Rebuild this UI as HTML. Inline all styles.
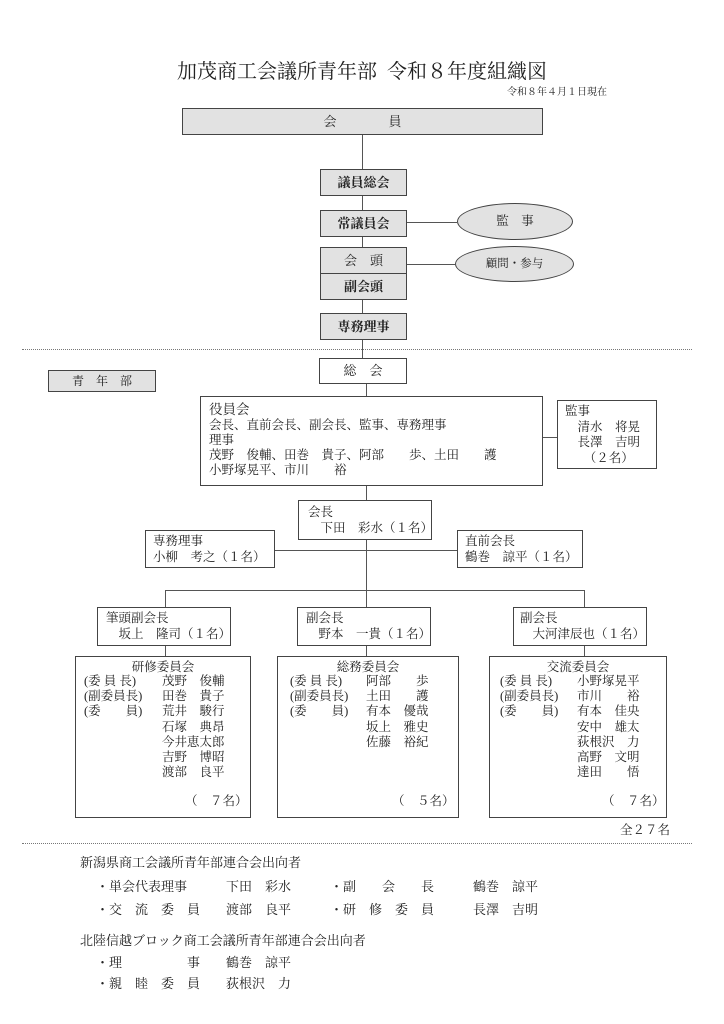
<!DOCTYPE html>
<html><head><meta charset="utf-8"><style>
body{margin:0;width:724px;height:1024px;background:#fff;position:relative;overflow:hidden;font-family:"Liberation Serif","Noto Serif CJK SC",serif;color:#222}
.a{position:absolute;box-sizing:border-box}
.b{position:absolute;box-sizing:border-box;border:1.3px solid #444}
.g{background:#e2e2e2;text-align:center;font-size:13px;font-weight:bold}
.l{position:absolute;background:#555}
.t{position:absolute;font-size:12.5px;line-height:15px;white-space:pre}
.e{position:absolute;border:1.3px solid #444;border-radius:50%;background:#e2e2e2;text-align:center;font-size:12.5px;box-sizing:border-box}
.c{position:absolute;font-size:12.5px;line-height:15.2px;white-space:pre}
.bt{position:absolute;font-size:13px;line-height:15px;white-space:pre}
</style></head><body>
<div class="a" style="left:0;width:724px;top:55px;text-align:center;font-size:20px">加茂商工会議所青年部&nbsp; 令和８年度組織図</div>
<div class="a" style="left:480px;width:127px;top:83px;text-align:right;font-size:10px">令和８年４月１日現在</div>

<div class="b g" style="left:182px;top:108px;width:361px;height:27px;line-height:25px;font-weight:normal">会　　　　員</div>
<div class="l" style="left:362px;top:135px;width:1.3px;height:34px"></div>
<div class="b g" style="left:320px;top:169px;width:87px;height:27px;line-height:25px">議員総会</div>
<div class="l" style="left:362px;top:196px;width:1.3px;height:14px"></div>
<div class="b g" style="left:320px;top:210px;width:87px;height:27px;line-height:25px">常議員会</div>
<div class="l" style="left:407px;top:222px;width:50px;height:1.3px"></div>
<div class="e" style="left:457px;top:203px;width:116px;height:37px;line-height:35px">監　事</div>
<div class="l" style="left:362px;top:237px;width:1.3px;height:10px"></div>
<div class="b g" style="left:320px;top:247px;width:87px;height:27px;line-height:25px;font-weight:normal">会　頭</div>
<div class="b g" style="left:320px;top:273px;width:87px;height:27px;line-height:25px">副会頭</div>
<div class="l" style="left:407px;top:264px;width:48px;height:1.3px"></div>
<div class="e" style="left:455px;top:246px;width:119px;height:36px;line-height:34px;font-size:11.5px">顧問・参与</div>
<div class="l" style="left:362px;top:300px;width:1.3px;height:13px"></div>
<div class="b g" style="left:320px;top:313px;width:87px;height:27px;line-height:25px">専務理事</div>
<div class="a" style="left:22px;top:349px;width:670px;border-top:1px dotted #777"></div>
<div class="l" style="left:362px;top:340px;width:1.3px;height:18px"></div>

<div class="b" style="left:319px;top:358px;width:88px;height:26px;line-height:24px;text-align:center;font-size:13px">総　会</div>
<div class="b g" style="left:48px;top:370px;width:108px;height:22px;line-height:20px;font-weight:normal;font-size:12px">青　年　部</div>
<div class="l" style="left:366px;top:384px;width:1.3px;height:12px"></div>

<div class="b" style="left:200px;top:396px;width:343px;height:90px"></div>
<div class="t" style="left:209px;top:402px;font-size:13.5px">役員会</div>
<div class="t" style="left:209px;top:418px">会長、直前会長、副会長、監事、専務理事
理事
茂野　俊輔、田巻　貴子、阿部　　歩、土田　　護
小野塚晃平、市川　　裕</div>
<div class="l" style="left:543px;top:437px;width:14px;height:1.3px"></div>
<div class="b" style="left:557px;top:400px;width:100px;height:69px"></div>
<div class="t" style="left:565px;top:404px;line-height:15.5px">監事
　清水　将晃
　長澤　吉明
　　（２名）</div>

<div class="l" style="left:366px;top:486px;width:1.3px;height:14px"></div>
<div class="b" style="left:298px;top:500px;width:134px;height:40px"></div>
<div class="t" style="left:308px;top:504px;line-height:16px">会長
　下田　彩水（１名）</div>
<div class="l" style="left:366px;top:540px;width:1.3px;height:67px"></div>
<div class="l" style="left:275px;top:550px;width:182px;height:1.3px"></div>
<div class="b" style="left:145px;top:530px;width:130px;height:38px"></div>
<div class="t" style="left:153px;top:533px;line-height:16px">専務理事
小柳　考之（１名）</div>
<div class="b" style="left:457px;top:530px;width:126px;height:38px"></div>
<div class="t" style="left:465px;top:533px;line-height:16px">直前会長
鶴巻　諒平（１名）</div>

<div class="l" style="left:165px;top:590px;width:420px;height:1.3px"></div>
<div class="l" style="left:165px;top:590px;width:1.3px;height:17px"></div>
<div class="l" style="left:584px;top:590px;width:1.3px;height:17px"></div>

<div class="b" style="left:97px;top:607px;width:134px;height:39px"></div>
<div class="t" style="left:106px;top:610px;line-height:16px">筆頭副会長
　坂上　隆司（１名）</div>
<div class="b" style="left:297px;top:607px;width:134px;height:39px"></div>
<div class="t" style="left:306px;top:610px;line-height:16px">副会長
　野本　一貴（１名）</div>
<div class="b" style="left:513px;top:607px;width:134px;height:39px"></div>
<div class="t" style="left:520px;top:610px;line-height:16px">副会長
　大河津辰也（１名）</div>
<div class="l" style="left:165px;top:646px;width:1.3px;height:10px"></div>
<div class="l" style="left:366px;top:646px;width:1.3px;height:10px"></div>
<div class="l" style="left:584px;top:646px;width:1.3px;height:10px"></div>

<div class="b" style="left:75px;top:656px;width:176px;height:162px"></div>
<div class="c" style="left:75px;width:176px;top:660px;text-align:center">研修委員会</div>
<div class="c" style="left:84px;top:674px">(委 員 長)
(副委員長)
(委　　員)</div>
<div class="c" style="left:162px;top:674px">茂野　俊輔
田巻　貴子
荒井　駿行
石塚　典昂
今井恵太郎
吉野　博昭
渡部　良平</div>
<div class="c" style="left:185px;top:794px">（　７名）</div>

<div class="b" style="left:277px;top:656px;width:182px;height:162px"></div>
<div class="c" style="left:277px;width:182px;top:660px;text-align:center">総務委員会</div>
<div class="c" style="left:290px;top:674px">(委 員 長)
(副委員長)
(委　　員)</div>
<div class="c" style="left:366px;top:674px">阿部　　歩
土田　　護
有本　優哉
坂上　雅史
佐藤　裕紀</div>
<div class="c" style="left:392px;top:794px">（　５名）</div>

<div class="b" style="left:489px;top:656px;width:178px;height:162px"></div>
<div class="c" style="left:489px;width:178px;top:660px;text-align:center">交流委員会</div>
<div class="c" style="left:500px;top:674px">(委 員 長)
(副委員長)
(委　　員)</div>
<div class="c" style="left:577px;top:674px">小野塚晃平
市川　　裕
有本　佳央
安中　雄太
荻根沢　力
高野　文明
達田　　悟</div>
<div class="c" style="left:602px;top:794px">（　７名）</div>

<div class="t" style="left:620px;top:823px">全２７名</div>
<div class="a" style="left:22px;top:843px;width:670px;border-top:1px dotted #777"></div>

<div class="bt" style="left:80px;top:855px">新潟県商工会議所青年部連合会出向者</div>
<div class="bt" style="left:96px;top:879px">・単会代表理事　　　下田　彩水　　　・副　　会　　長　　　鶴巻　諒平</div>
<div class="bt" style="left:96px;top:902px">・交　流　委　員　　渡部　良平　　　・研　修　委　員　　　長澤　吉明</div>
<div class="bt" style="left:80px;top:933px">北陸信越ブロック商工会議所青年部連合会出向者</div>
<div class="bt" style="left:96px;top:955px">・理　　　　　事　　鶴巻　諒平</div>
<div class="bt" style="left:96px;top:976px">・親　睦　委　員　　荻根沢　力</div>
</body></html>
